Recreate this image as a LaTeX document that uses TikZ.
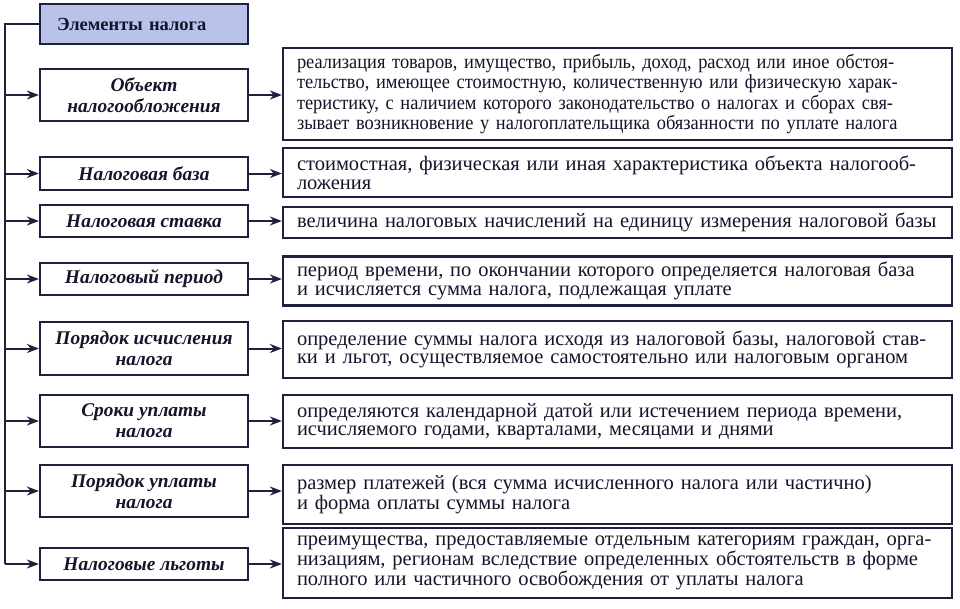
\documentclass[tikz,border=0pt]{standalone}
\usepackage{fontspec}
\setmainfont{Liberation Serif}
\newfontfamily\condserif{Liberation Serif}[FakeStretch=0.92]
\usetikzlibrary{arrows.meta}
\definecolor{ink}{HTML}{1E2040}
\definecolor{textink}{HTML}{14142A}
\definecolor{titlefill}{HTML}{B9C3EA}
\newcommand{\jl}[1]{\makebox[641pt][s]{#1}}
\tikzset{
  box/.style={draw=ink, line width=2.2pt, fill=white, inner sep=0pt},
  lbox/.style={box, minimum width=208pt, align=center, text=textink,
    font=\fontsize{19.4}{21}\selectfont\bfseries\itshape},
  rbox/.style={box, minimum width=669pt, inner xsep=14pt, text width=641pt, align=left, text=textink,
    font=\fontsize{20.5}{18.6}\selectfont},
  titlebox/.style={box, fill=titlefill, minimum width=208pt, minimum height=40pt, text=textink,
    inner xsep=17pt, text width=174pt, align=left,
    font=\fontsize{18.5}{20}\selectfont\bfseries},
  conn/.style={draw=ink, line width=2pt},
  arr/.style={conn, -{Stealth[length=12pt,width=9pt]}}
}
\begin{document}
\begin{tikzpicture}[x=1pt,y=-1pt]
\useasboundingbox (0,0) rectangle (960,608);
\node[titlebox] (t) at (144,24) {Элементы налога};
\coordinate (s0) at (5,24);
\coordinate (s1) at (5,564);
% left boxes
\node[lbox, minimum height=52pt] (l1) at (144,95) {Объект\\налогообложения};
\node[lbox, minimum height=33pt] (l2) at (144,173.5) {Налоговая база};
\node[lbox, minimum height=32pt] (l3) at (144,221) {Налоговая ставка};
\node[lbox, minimum height=32pt] (l4) at (144,279) {Налоговый период};
\node[lbox, minimum height=53pt] (l5) at (144,348.5) {Порядок исчисления\\налога};
\node[lbox, minimum height=52pt] (l6) at (144,421) {Сроки уплаты\\налога};
\node[lbox, minimum height=52pt] (l7) at (144,491) {Порядок уплаты\\налога};
\node[lbox, minimum height=32pt] (l8) at (144,564) {Налоговые льготы};
% right boxes
\node[rbox, minimum height=92pt, font=\fontsize{20}{20.5}\selectfont\condserif] (r1) at (617.5,94) {\jl{реализация товаров, имущество, прибыль, доход, расход или иное обстоя-}\\\jl{тельство, имеющее стоимостную, количественную или физическую харак-}\\\jl{теристику, с наличием которого законодательство о налогах и сборах свя-}\\\jl{зывает возникновение у налогоплательщика обязанности по уплате налога}};
\node[rbox, minimum height=49pt] (r2) at (617.5,172.5) {стоимостная, физическая или иная характеристика объекта налогооб-\\ложения};
\node[rbox, minimum height=31pt] (r3) at (617.5,222.5) {величина налоговых начислений на единицу измерения налоговой базы};
\node[rbox, minimum height=49pt] (r4) at (617.5,281) {период времени, по окончании которого определяется налоговая база\\и исчисляется сумма налога, подлежащая уплате};
\node[rbox, minimum height=57pt] (r5) at (617.5,349.5) {определение суммы налога исходя из налоговой базы, налоговой став-\\ки и льгот, осуществляемое самостоятельно или налоговым органом};
\node[rbox, minimum height=53pt] (r6) at (617.5,421.5) {определяются календарной датой или истечением периода времени,\\исчисляемого годами, кварталами, месяцами и днями};
\node[rbox, minimum height=59pt] (r7) at (617.5,494.5) {размер платежей (вся сумма исчисленного налога или частично)\\и форма оплаты суммы налога};
\node[rbox, minimum height=70pt] (r8) at (617.5,563) {преимущества, предоставляемые отдельным категориям граждан, орга-\\низациям, регионам вследствие определенных обстоятельств в форме\\полного или частичного освобождения от уплаты налога};
% spine
\draw[conn] (t.west) -- (s0) -- (s1);
\foreach \i in {1,...,8}{
  \draw[arr] (l\i.west -| s0) -- (l\i.west);
  \draw[arr] (l\i.east) -- (l\i.east -| r\i.west);
}
\end{tikzpicture}
\end{document}
